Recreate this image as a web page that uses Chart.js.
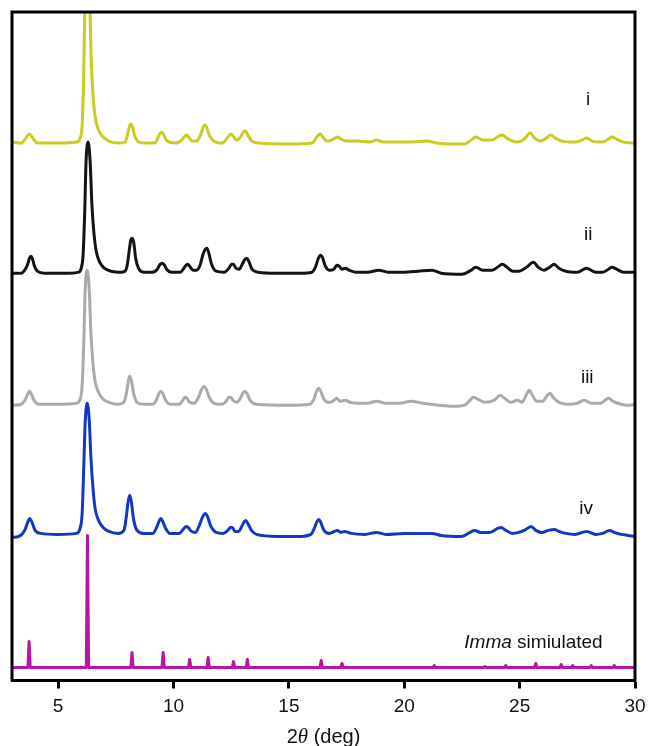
<!DOCTYPE html>
<html>
<head>
<meta charset="utf-8">
<script src="https://cdn.jsdelivr.net/npm/chart.js@4.4.0/dist/chart.umd.min.js"></script>
<style>
  html, body { margin: 0; padding: 0; background: #fff; }
  #wrap { width: 650px; height: 746px; position: relative; }
</style>
</head>
<body>
<div id="wrap"><canvas id="xrdChart"></canvas></div>
<script>
// x axis ticks (2theta, deg)
const xTicks = [5, 10, 15, 20, 25, 30];

// Traced patterns: [2theta, intensity above the trace's own baseline]
const patternI = [
  [3.0, 1], [3.4, 0], [3.6, 5], [3.75, 9], [3.9, 5], [4.1, 0], [5.0, 0], [5.8, 1],
  [5.95, 5], [6.04, 18], [6.11, 70], [6.17, 160], [6.26, 225], [6.35, 165], [6.43, 85],
  [6.52, 45], [6.62, 24], [6.75, 13], [6.95, 6], [7.2, 2], [7.6, 0],
  [7.9, 1], [8.0, 8], [8.08, 16], [8.15, 19], [8.22, 16], [8.32, 7], [8.5, 1], [8.8, 0],
  [9.2, 0], [9.32, 5], [9.42, 10], [9.5, 11], [9.58, 8], [9.72, 2], [10.1, 0], [10.35, 3],
  [10.5, 7], [10.58, 8], [10.66, 6], [10.8, 2], [11.0, 2], [11.15, 7], [11.27, 15],
  [11.35, 18], [11.43, 16], [11.55, 8], [11.75, 2],
  [12.1, 0], [12.3, 4], [12.42, 8], [12.5, 9], [12.58, 7], [12.72, 3], [12.9, 6],
  [13.03, 11], [13.12, 12], [13.22, 8], [13.4, 2], [13.7, 0],
  [15.0, -1], [16.0, 0], [16.15, 4], [16.28, 8], [16.37, 9], [16.47, 6], [16.65, 2],
  [16.85, 3], [17.0, 5], [17.12, 6], [17.25, 4], [17.5, 2], [18.0, 2], [18.5, 1], [18.8, 3],
  [19.1, 1], [19.9, 1], [20.3, 1], [21.0, 2], [21.4, 0], [22.0, -1], [22.6, -1], [22.9, 3],
  [23.1, 6], [23.4, 3], [23.8, 3], [24.1, 7], [24.25, 8], [24.45, 5], [24.7, 2], [24.9, 1],
  [25.2, 4], [25.45, 10], [25.65, 5], [25.9, 2], [26.15, 5], [26.35, 8], [26.55, 5],
  [26.85, 2], [27.4, 1], [27.7, 3], [27.9, 5], [28.15, 2], [28.6, 1], [28.85, 4], [29.0, 6],
  [29.2, 4], [29.5, 1], [30.0, 0]
];

const patternII = [
  [3.0, 0], [3.4, 0], [3.55, 3], [3.68, 9], [3.76, 15], [3.82, 17], [3.88, 15], [3.96, 8],
  [4.1, 2], [4.4, 0], [5.5, 0], [5.9, 1], [6.0, 5], [6.08, 18], [6.15, 60], [6.21, 112],
  [6.3, 131], [6.39, 110], [6.46, 70], [6.55, 40], [6.65, 22], [6.8, 11], [7.0, 5],
  [7.3, 2], [7.7, 1],
  [7.9, 2], [8.0, 9], [8.1, 26], [8.16, 34], [8.22, 35], [8.28, 30], [8.36, 15], [8.48, 5],
  [8.7, 1], [9.1, 1], [9.3, 4], [9.42, 9], [9.5, 10], [9.58, 9], [9.7, 4], [9.9, 1],
  [10.3, 1], [10.45, 5], [10.55, 8], [10.62, 9], [10.7, 7], [10.85, 3], [11.0, 3],
  [11.15, 8], [11.28, 19], [11.38, 24], [11.45, 25], [11.53, 20], [11.65, 9], [11.85, 2],
  [12.2, 1], [12.4, 5], [12.52, 9], [12.6, 9], [12.7, 5], [12.85, 4], [13.0, 10],
  [13.1, 14], [13.18, 15], [13.26, 12], [13.4, 4], [13.65, 1],
  [14.5, 0], [15.5, 0], [16.0, 1], [16.15, 6], [16.28, 15], [16.37, 18], [16.45, 16],
  [16.58, 7], [16.75, 3], [16.95, 4], [17.08, 8], [17.18, 7], [17.3, 4], [17.45, 5],
  [17.6, 3], [17.9, 1], [18.4, 1], [18.9, 3], [19.3, 1], [20.0, 1], [20.6, 2], [21.2, 3],
  [21.6, 0], [22.5, -1], [22.9, 3], [23.1, 6], [23.4, 3], [23.8, 3], [24.1, 7], [24.25, 9],
  [24.45, 6], [24.7, 2], [24.95, 2], [25.3, 6], [25.6, 11], [25.8, 6], [26.05, 3],
  [26.3, 6], [26.5, 9], [26.7, 5], [27.0, 2], [27.5, 1], [27.9, 5], [28.3, 1], [28.6, 1],
  [28.85, 4], [29.0, 6], [29.2, 4], [29.5, 1], [30.0, 1]
];

const patternIII = [
  [3.0, 0], [3.4, 1], [3.58, 6], [3.7, 12], [3.76, 14], [3.84, 11], [3.98, 4], [4.2, 1],
  [5.0, 1], [5.8, 2], [5.95, 6], [6.04, 20], [6.11, 62], [6.17, 115], [6.26, 135],
  [6.35, 114], [6.42, 72], [6.51, 42], [6.6, 24], [6.75, 13], [6.95, 6], [7.2, 3], [7.6, 1],
  [7.85, 3], [7.96, 12], [8.04, 24], [8.1, 29], [8.17, 25], [8.27, 12], [8.42, 3], [8.7, 1],
  [9.1, 1], [9.25, 5], [9.37, 12], [9.45, 14], [9.53, 12], [9.66, 5], [9.85, 1],
  [10.25, 1], [10.4, 5], [10.5, 8], [10.58, 7], [10.7, 3], [10.9, 2], [11.08, 8],
  [11.22, 16], [11.32, 19], [11.4, 17], [11.55, 8], [11.75, 2],
  [12.1, 1], [12.28, 4], [12.4, 8], [12.48, 8], [12.58, 5], [12.75, 3], [12.92, 8],
  [13.03, 13], [13.1, 14], [13.18, 12], [13.32, 5], [13.6, 1],
  [15.0, 0], [15.9, 1], [16.08, 6], [16.2, 14], [16.3, 17], [16.38, 14], [16.52, 6],
  [16.7, 3], [16.9, 4], [17.07, 7], [17.22, 4], [17.45, 5], [17.65, 3], [18.0, 2],
  [18.4, 2], [18.8, 4], [19.2, 2], [19.8, 2], [20.3, 4], [20.8, 2], [21.5, 0], [22.1, -1],
  [22.6, 0], [22.85, 5], [23.0, 8], [23.2, 6], [23.5, 3], [23.9, 5], [24.15, 10],
  [24.35, 7], [24.6, 3], [24.9, 5], [25.1, 3], [25.3, 11], [25.42, 15], [25.55, 10],
  [25.75, 4], [26.0, 4], [26.2, 10], [26.32, 12], [26.45, 8], [26.7, 3], [27.1, 1],
  [27.5, 2], [27.8, 5], [28.1, 2], [28.5, 2], [28.7, 5], [28.85, 7], [29.05, 4], [29.4, 1],
  [29.7, 0], [30.0, 1]
];

const patternIV = [
  [3.0, -2], [3.3, -1], [3.55, 5], [3.68, 13], [3.76, 17], [3.85, 14], [4.0, 5], [4.25, 2],
  [5.0, 1], [5.8, 2], [5.95, 7], [6.04, 22], [6.11, 68], [6.17, 112], [6.26, 132],
  [6.35, 114], [6.42, 78], [6.51, 47], [6.6, 27], [6.75, 15], [6.95, 8], [7.2, 4], [7.6, 2],
  [7.85, 5], [7.95, 18], [8.03, 33], [8.1, 40], [8.17, 34], [8.27, 16], [8.42, 5], [8.7, 2],
  [9.1, 2], [9.25, 7], [9.37, 14], [9.45, 17], [9.53, 14], [9.66, 7], [9.85, 2],
  [10.25, 2], [10.42, 6], [10.55, 9], [10.63, 8], [10.78, 4], [10.95, 3], [11.12, 10],
  [11.27, 19], [11.38, 22], [11.47, 19], [11.62, 9], [11.85, 3],
  [12.15, 2], [12.35, 5], [12.47, 8], [12.55, 8], [12.66, 4], [12.82, 4], [12.98, 10],
  [13.07, 14], [13.13, 15], [13.22, 12], [13.38, 5], [13.6, 1],
  [14.5, -1], [15.5, -1], [15.95, 1], [16.1, 7], [16.22, 14], [16.3, 16], [16.38, 13],
  [16.52, 5], [16.75, 2], [17.1, 5], [17.25, 3], [17.4, 4], [17.7, 2], [18.3, 1],
  [18.8, 3], [19.2, 1], [20.0, 2], [20.6, 2], [21.2, 2], [21.6, 0], [22.5, -1], [22.85, 3],
  [23.05, 5], [23.3, 3], [23.7, 3], [24.05, 7], [24.2, 8], [24.4, 5], [24.7, 2], [24.95, 3],
  [25.2, 5], [25.5, 9], [25.7, 5], [25.95, 3], [26.25, 5], [26.5, 6], [26.7, 4], [27.0, 2],
  [27.4, 1], [27.9, 4], [28.3, 1], [28.6, 2], [28.9, 5], [29.1, 3], [29.4, 1], [29.7, 0],
  [30.0, -1]
];

// Simulated (Imma) sticks: peak position and height
const simPositions = [3.74, 6.27, 8.2, 9.55, 10.7, 11.5, 12.6, 13.2, 16.4, 17.3, 21.3, 23.5, 24.4, 25.7, 26.8, 27.3, 28.1, 29.1];
const simHeights   = [26, 132, 15, 15, 8, 10, 6, 8, 7, 4, 2, 1, 2, 4, 3, 2, 2, 2];

// vertical offsets of the stacked traces (same units as the y scale)
const offsets = { i: 537, ii: 407, iii: 275, iv: 145, sim: 13 };

const colors = {
  i: "rgb(202, 204, 32)",
  ii: "rgb(20, 20, 20)",
  iii: "rgb(170, 170, 170)",
  iv: "rgb(20, 55, 195)",
  sim: "rgb(185, 20, 165)",
};

// build the stick pattern as points (each stick is a narrow up/down spike)
function buildSticks(positions, heights) {
  const pts = [{ x: 3, y: 0 }];
  positions.forEach((p, i) => {
    pts.push({ x: p - 0.05, y: 0 });
    pts.push({ x: p, y: heights[i] });
    pts.push({ x: p + 0.05, y: 0 });
  });
  pts.push({ x: 30, y: 0 });
  return pts;
}

function toPoints(pattern, offset) {
  return pattern.map((p) => ({ x: p[0], y: p[1] + offset }));
}

const simPoints = buildSticks(simPositions, simHeights).map((p) => ({ x: p.x, y: p.y + offsets.sim }));

// trace labels, anchored in data coordinates
const traceLabels = [
  { parts: [["i", ""]], x: 27.97, y: 580 },
  { parts: [["ii", ""]], x: 27.97, y: 445 },
  { parts: [["iii", ""]], x: 27.93, y: 303 },
  { parts: [["iv", ""]], x: 27.88, y: 172 },
  { parts: [["Imma", "italic "], [" simiulated", ""]], x: 25.6, y: 38 },
];

const labelPlugin = {
  id: "labelPlugin",
  afterDraw(chart) {
    const { ctx, chartArea, scales } = chart;
    ctx.save();

    // frame: left, top, right edges (bottom is the x axis border)
    ctx.strokeStyle = "#000";
    ctx.lineWidth = 3;
    ctx.beginPath();
    ctx.moveTo(chartArea.left, chartArea.bottom + 1);
    ctx.lineTo(chartArea.left, chartArea.top);
    ctx.lineTo(chartArea.right, chartArea.top);
    ctx.lineTo(chartArea.right, chartArea.bottom + 1);
    ctx.stroke();

    // trace labels
    ctx.fillStyle = "#111";
    ctx.textBaseline = "middle";
    traceLabels.forEach((lab) => {
      let total = 0;
      lab.parts.forEach((pt) => {
        ctx.font = pt[1] + '19px "Liberation Sans", Arial, sans-serif';
        total += ctx.measureText(pt[0]).width;
      });
      let px = scales.x.getPixelForValue(lab.x) - total / 2;
      const py = scales.y.getPixelForValue(lab.y);
      ctx.textAlign = "left";
      lab.parts.forEach((pt) => {
        ctx.font = pt[1] + '19px "Liberation Sans", Arial, sans-serif';
        ctx.fillText(pt[0], px, py);
        px += ctx.measureText(pt[0]).width;
      });
    });

    // x axis title: 2θ (deg)
    const titleParts = [
      ["2", '20px "Liberation Sans", Arial, sans-serif'],
      ["\u03B8", 'italic 21px "Liberation Serif", serif'],
      [" (deg)", '20px "Liberation Sans", Arial, sans-serif'],
    ];
    let w = 0;
    titleParts.forEach((pt) => {
      ctx.font = pt[1];
      w += ctx.measureText(pt[0]).width;
    });
    let tx = (chartArea.left + chartArea.right) / 2 - w / 2;
    titleParts.forEach((pt) => {
      ctx.font = pt[1];
      ctx.fillText(pt[0], tx, 737);
      tx += ctx.measureText(pt[0]).width;
    });
    ctx.restore();
  },
};

function lineSet(label, data, color, smooth) {
  return {
    label: label,
    data: data,
    borderColor: color,
    backgroundColor: color,
    borderWidth: 3,
    pointRadius: 0,
    fill: false,
    cubicInterpolationMode: smooth ? "monotone" : "default",
    tension: 0,
    borderJoinStyle: "round",
    borderCapStyle: "round",
  };
}

const ctx = document.getElementById("xrdChart").getContext("2d");
new Chart(ctx, {
  type: "line",
  data: {
    datasets: [
      lineSet("i", toPoints(patternI, offsets.i), colors.i, true),
      lineSet("ii", toPoints(patternII, offsets.ii), colors.ii, true),
      lineSet("iii", toPoints(patternIII, offsets.iii), colors.iii, true),
      lineSet("iv", toPoints(patternIV, offsets.iv), colors.iv, true),
      lineSet("Imma simulated", simPoints, colors.sim, false),
    ],
  },
  options: {
    responsive: true,
    maintainAspectRatio: false,
    animation: false,
    devicePixelRatio: 1,
    layout: { padding: { left: 12, right: 15, top: 12, bottom: 21 } },
    scales: {
      x: {
        type: "linear",
        min: 3,
        max: 30,
        afterBuildTicks: (scale) => {
          scale.ticks = xTicks.map((v) => ({ value: v }));
        },
        ticks: {
          autoSkip: false,
          maxRotation: 0,
          padding: 4,
          color: "#111",
          font: { family: '"Liberation Sans", Arial, sans-serif', size: 19, lineHeight: 1.5 },
        },
        grid: {
          drawOnChartArea: false,
          drawTicks: true,
          tickLength: 8,
          tickWidth: 3,
          tickColor: "#000",
        },
        border: { display: true, width: 3, color: "#000" },
      },
      y: {
        display: false,
        min: 0,
        max: 668,
      },
    },
    plugins: {
      legend: { display: false },
      tooltip: { enabled: false },
    },
  },
  plugins: [labelPlugin],
});
</script>
</body>
</html>
